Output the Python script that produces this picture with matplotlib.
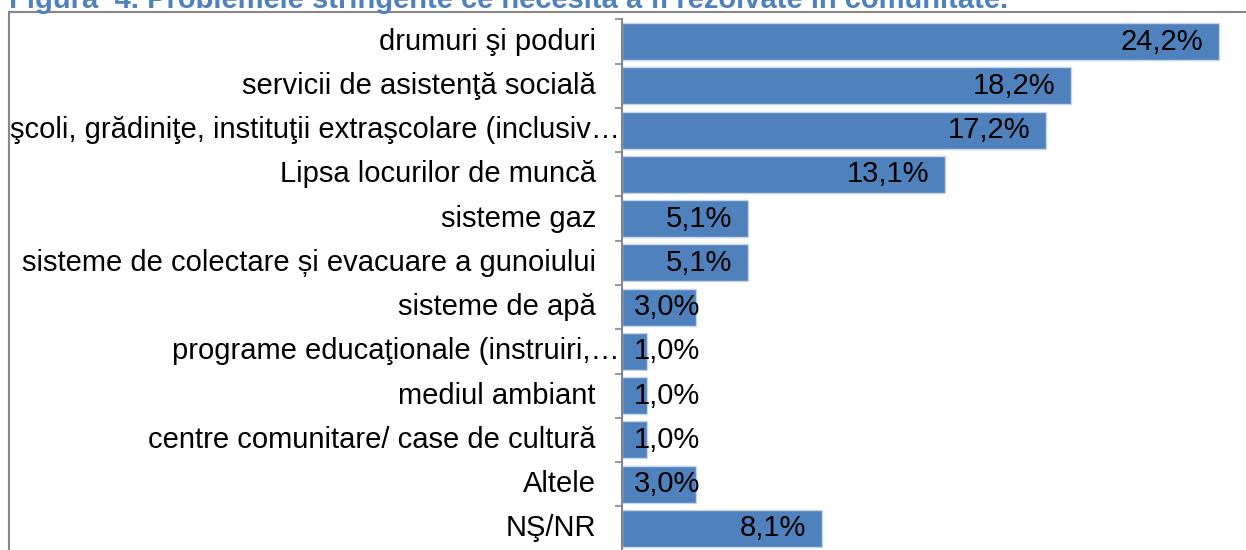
import matplotlib
matplotlib.use("Agg")
import matplotlib.pyplot as plt
from matplotlib.patches import Rectangle

plt.rcParams['font.family'] = ['Liberation Sans', 'DejaVu Sans']

# data
categories = ["drumuri şi poduri",
              "servicii de asistenţă socială",
              "şcoli, grădiniţe, instituţii extraşcolare (inclusiv…",
              "Lipsa locurilor de muncă",
              "sisteme gaz",
              "sisteme de colectare și evacuare a gunoiului",
              "sisteme de apă",
              "programe educaţionale (instruiri,…",
              "mediul ambiant",
              "centre comunitare/ case de cultură",
              "Altele",
              "NŞ/NR"]
values = [24.2, 18.2, 17.2, 13.1, 5.1, 5.1, 3.0, 1.0, 1.0, 1.0, 3.0, 8.1]
value_labels = [("%.1f%%" % v).replace(".", ",") for v in values]
title = "Figura  4. Problemele stringente ce necesită a fi rezolvate în comunitate."

W, H = 1246, 550
bar_color = "#4F81BD"
grey = "#868686"

fig = plt.figure(figsize=(W / 100, H / 100), dpi=100)

# the title is cut off at the top edge, as in the reference
fig.text(9 / W, 1 - 7.5 / H, title, fontsize=21, fontweight="bold",
         color=bar_color, ha="left", va="baseline")
fig.patches.append(Rectangle((8.5 / W, -0.1), 1.2, 1 - 11.5 / H + 0.1,
                             transform=fig.transFigure, fill=False,
                             edgecolor=grey, linewidth=1.5))

ax_left, ax_top, ax_bot = 622, 19.4, 550.6
ax = fig.add_axes([ax_left / W, 1 - ax_bot / H, (W - ax_left) / W, (ax_bot - ax_top) / H])
ax.patch.set_alpha(0)

y = list(range(len(categories)))
ax.barh(y, values, height=0.836, color=bar_color, edgecolor="#C6D5EA", linewidth=1)
ax.set_ylim(len(categories) - 0.5, -0.5)
px_per_unit = (1219 - ax_left) / 24.2
ax.set_xlim(0, (W - ax_left) / px_per_unit)

for s in ["top", "right", "bottom"]:
    ax.spines[s].set_visible(False)
ax.spines["left"].set_color(grey)
ax.spines["left"].set_linewidth(1.5)
ax.set_xticks([])
ax.set_yticks([])
ax.set_yticks([k - 0.5 for k in range(len(categories) + 1)], minor=True)
ax.tick_params(axis="y", which="minor", length=5, width=1.2, color=grey, direction="out")
ax.tick_params(axis="y", which="minor", labelleft=False)

# category names: truncated ones run up to the axis
for i, name in enumerate(categories):
    off = -2 if name.endswith("…") else -26
    ax.annotate(name, xy=(0, i), xycoords=("axes fraction", "data"),
                xytext=(off * 0.72, 0), textcoords="offset points",
                ha="right", va="center", fontsize=21)

# value labels at the inside end, pushed right when the bar is too short
fig.canvas.draw()
renderer = fig.canvas.get_renderer()
for i, (v, lab) in enumerate(zip(values, value_labels)):
    t = ax.annotate(lab, xy=(v, i), xycoords="data", xytext=(-16 * 0.72, 0),
                    textcoords="offset points", ha="right", va="center", fontsize=21)
    bb = t.get_window_extent(renderer)
    if bb.x0 < ax_left + 10:
        t.remove()
        ax.annotate(lab, xy=(0, i), xycoords="data", xytext=(12 * 0.72, 0),
                    textcoords="offset points", ha="left", va="center", fontsize=21)

fig.savefig("out.png", dpi=100)
